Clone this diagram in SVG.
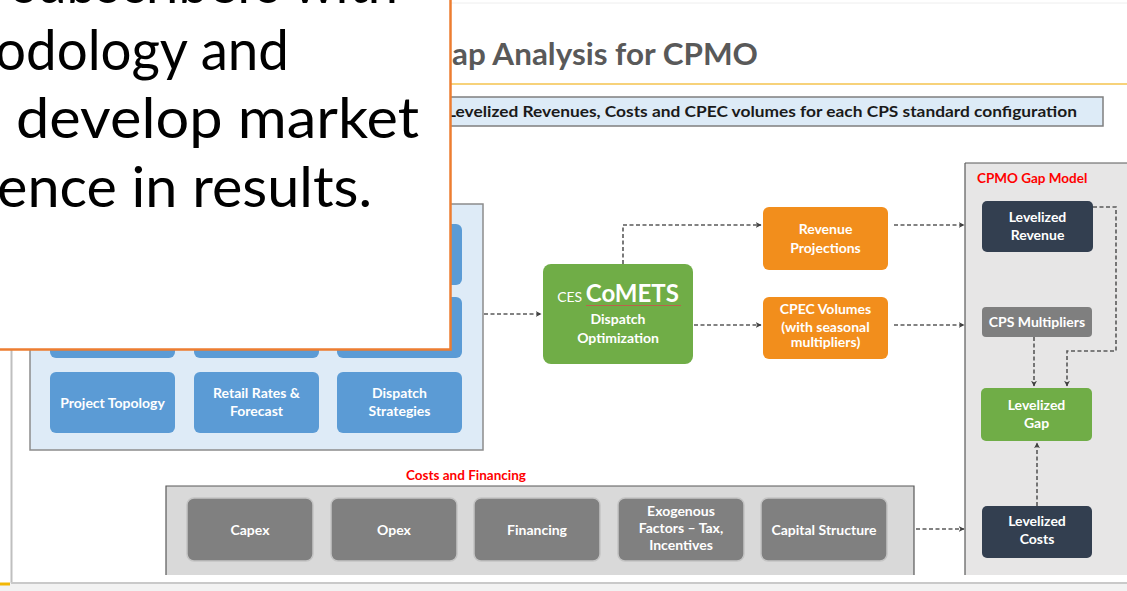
<svg xmlns="http://www.w3.org/2000/svg" width="1127" height="591" viewBox="0 0 1127 591">
<style>
.f{font-family:Lato,"Open Sans","Liberation Sans",sans-serif}
.lbl{font-family:Lato,"Open Sans","Liberation Sans",sans-serif;font-weight:bold;fill:#fff;text-anchor:middle;font-size:14px}
.blue{fill:#5B9BD5}
.org{fill:#F28E1C}
.navy{fill:#333F50}
.gry{fill:#808080;stroke:#C4C4C4;stroke-width:1.5}
.conn{fill:none;stroke:#595959;stroke-width:1.6;stroke-dasharray:4 2.5;marker-end:url(#ah)}
.red{font-family:Lato,"Open Sans","Liberation Sans",sans-serif;font-weight:bold;fill:#FF0000;font-size:13.5px}
.call{font-family:Lato,"Open Sans","Liberation Sans",sans-serif;font-size:56px;fill:#000}
</style>
<defs>
<marker id="ah" viewBox="0 0 10 10" refX="9" refY="5" markerWidth="6" markerHeight="6" markerUnits="userSpaceOnUse" orient="auto">
<path d="M0,0 L10,5 L0,10 L3,5 Z" fill="#404040"/>
</marker>
</defs>
<rect width="1127" height="591" fill="#fff"/>
<!-- slide frame -->
<line x1="450" y1="3" x2="1127" y2="3" stroke="#EEEEEE" stroke-width="1"/>
<line x1="11.5" y1="0" x2="11.5" y2="583" stroke="#BFBFBF" stroke-width="2"/>
<rect x="0" y="583" width="1127" height="8" fill="#F2F2F2"/>
<line x1="11" y1="583" x2="1127" y2="583" stroke="#C9C9C9" stroke-width="2"/>
<line x1="0" y1="584" x2="10" y2="584" stroke="#F2B705" stroke-width="3"/>
<!-- title -->
<text class="f" x="452" y="65" font-size="30" font-weight="bold" fill="#595959" textLength="306" lengthAdjust="spacingAndGlyphs">ap Analysis for CPMO</text>
<line x1="450" y1="84" x2="1127" y2="84" stroke="#F7D27A" stroke-width="2"/>
<g id="header-bar">
<rect x="440" y="97" width="663" height="29" fill="#DDEBF7" stroke="#7F7F7F" stroke-width="1.5"/>
<text class="f" x="447" y="117" font-size="14.5" font-weight="bold" fill="#1a1a1a" textLength="630" lengthAdjust="spacingAndGlyphs">Levelized Revenues, Costs and CPEC volumes for each CPS standard configuration</text>
</g>
<!-- left inputs panel -->
<g id="inputs-panel">
<rect x="30" y="204" width="453" height="246" fill="#DEEBF7" stroke="#8C8C8C" stroke-width="1.5"/>
<rect class="blue" x="50" y="224" width="125" height="61" rx="6"/>
<rect class="blue" x="194" y="224" width="125" height="61" rx="6"/>
<rect class="blue" x="337" y="224" width="125" height="61" rx="6"/>
<rect class="blue" x="50" y="297" width="125" height="61" rx="6"/>
<rect class="blue" x="194" y="297" width="125" height="61" rx="6"/>
<rect class="blue" x="337" y="297" width="125" height="61" rx="6"/>
</g>
<g id="project-topology">
<rect class="blue" x="50" y="372" width="125" height="61" rx="6"/>
<text class="lbl" x="112.5" y="408">Project Topology</text>
</g>
<g id="retail-rates">
<rect class="blue" x="194" y="372" width="125" height="61" rx="6"/>
<text class="lbl" x="256.5" y="398">Retail Rates &amp;</text>
<text class="lbl" x="256.5" y="416">Forecast</text>
</g>
<g id="dispatch-strategies">
<rect class="blue" x="337" y="372" width="125" height="61" rx="6"/>
<text class="lbl" x="399.5" y="398">Dispatch</text>
<text class="lbl" x="399.5" y="416">Strategies</text>
</g>
<!-- CoMETS -->
<g id="comets">
<rect x="543" y="264" width="150" height="100" rx="8" fill="#70AD47"/>
<text class="lbl" x="618" y="302"><tspan font-size="14" font-weight="normal">CES </tspan><tspan font-size="24">CoMETS</tspan></text>
<line x1="586" y1="305.5" x2="681" y2="305.5" stroke="#D0504D" stroke-width="1" opacity="0.8"/>
<text class="lbl" x="618" y="324" font-size="15">Dispatch</text>
<text class="lbl" x="618" y="343" font-size="15">Optimization</text>
</g>
<g id="revenue-projections">
<rect class="org" x="763" y="207" width="125" height="63" rx="6"/>
<text class="lbl" x="825.5" y="234">Revenue</text>
<text class="lbl" x="825.5" y="253">Projections</text>
</g>
<g id="cpec-volumes">
<rect class="org" x="763" y="297" width="125" height="62" rx="6"/>
<text class="lbl" x="825.5" y="314">CPEC Volumes</text>
<text class="lbl" x="825.5" y="332" font-size="9">(with seasonal</text>
<text class="lbl" x="825.5" y="347" font-size="9">multipliers)</text>
</g>
<!-- right panel -->
<g id="gap-model-panel">
<rect x="965" y="163" width="170" height="412" fill="#E7E6E6"/>
<line x1="965" y1="163" x2="1127" y2="163" stroke="#595959" stroke-width="1.2"/>
<line x1="965" y1="163" x2="965" y2="575" stroke="#595959" stroke-width="1.2"/>
<text class="red" x="977" y="183">CPMO Gap Model</text>
</g>
<g id="levelized-revenue">
<rect class="navy" x="982" y="201" width="111" height="51" rx="5"/>
<text class="lbl" x="1037.5" y="222">Levelized</text>
<text class="lbl" x="1037.5" y="240">Revenue</text>
</g>
<g id="cps-multipliers">
<rect x="982" y="307" width="110" height="30" rx="4" fill="#7F7F7F"/>
<text class="lbl" x="1037" y="327" font-size="13.5">CPS Multipliers</text>
</g>
<g id="levelized-gap">
<rect x="981" y="388" width="111" height="53" rx="5" fill="#70AD47"/>
<text class="lbl" x="1036.5" y="410">Levelized</text>
<text class="lbl" x="1036.5" y="428">Gap</text>
</g>
<g id="levelized-costs">
<rect class="navy" x="982" y="506" width="110" height="52" rx="5"/>
<text class="lbl" x="1037" y="526">Levelized</text>
<text class="lbl" x="1037" y="544">Costs</text>
</g>
<!-- costs and financing -->
<g id="costs-panel">
<text class="red" x="466" y="480" text-anchor="middle">Costs and Financing</text>
<rect x="166" y="486" width="748" height="89" fill="#D9D9D9"/>
<polyline points="166,575 166,486 914,486 914,575" fill="none" stroke="#595959" stroke-width="1.2"/>
</g>
<g id="capex">
<rect class="gry" x="187" y="498" width="126" height="63" rx="7"/>
<text class="lbl" x="250" y="535" font-size="13.5">Capex</text>
</g>
<g id="opex">
<rect class="gry" x="331" y="498" width="126" height="63" rx="7"/>
<text class="lbl" x="394" y="535" font-size="13.5">Opex</text>
</g>
<g id="financing">
<rect class="gry" x="474" y="498" width="126" height="63" rx="7"/>
<text class="lbl" x="537" y="535" font-size="13.5">Financing</text>
</g>
<g id="exogenous">
<rect class="gry" x="618" y="498" width="126" height="63" rx="7"/>
<text class="lbl" x="681" y="516" font-size="13">Exogenous</text>
<text class="lbl" x="681" y="533" font-size="13">Factors – Tax,</text>
<text class="lbl" x="681" y="550" font-size="13">Incentives</text>
</g>
<g id="capital-structure">
<rect class="gry" x="761" y="498" width="126" height="63" rx="7"/>
<text class="lbl" x="824" y="535" font-size="13.5">Capital Structure</text>
</g>
<!-- connectors -->
<g id="connectors">
<path class="conn" d="M484,314 H541"/>
<path class="conn" d="M623,264 V225 H761"/>
<path class="conn" d="M694,325 H761"/>
<path class="conn" d="M894,225 H964"/>
<path class="conn" d="M894,325 H964"/>
<path class="conn" d="M916,529 H964"/>
<path class="conn" d="M1093,207 H1116 V351 H1067 V386"/>
<path class="conn" d="M1034,337 V386"/>
<path class="conn" d="M1037,506 V443"/>
</g>
<!-- callout overlay -->
<g id="callout">
<rect x="-4" y="-4" width="454.5" height="353.5" fill="#fff" stroke="#ED7D31" stroke-width="2.5"/>
<text class="call" x="13" y="3" textLength="385" lengthAdjust="spacingAndGlyphs">subscribers with</text>
<text class="call" x="-5" y="70" textLength="294" lengthAdjust="spacingAndGlyphs">odology and</text>
<text class="call" x="16" y="138" textLength="403" lengthAdjust="spacingAndGlyphs">develop market</text>
<text class="call" x="-3" y="207" textLength="375" lengthAdjust="spacingAndGlyphs">ence in results.</text>
</g>
</svg>
